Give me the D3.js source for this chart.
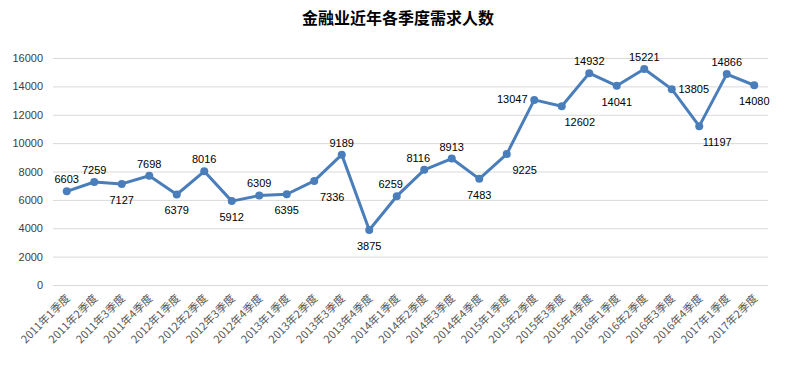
<!DOCTYPE html>
<html><head><meta charset="utf-8">
<script src="https://cdn.jsdelivr.net/npm/d3@7"></script>
<style>body{margin:0;background:#fff}svg{display:block}</style>
</head><body><svg id="c" width="796" height="371"></svg>
<script>
const title = "金融业近年各季度需求人数";
const categories = ["2011年1季度","2011年2季度","2011年3季度","2011年4季度","2012年1季度","2012年2季度","2012年3季度","2012年4季度","2013年1季度","2013年2季度","2013年3季度","2013年4季度","2014年1季度","2014年2季度","2014年3季度","2014年4季度","2015年1季度","2015年2季度","2015年3季度","2015年4季度","2016年1季度","2016年2季度","2016年3季度","2016年4季度","2017年1季度","2017年2季度"];
const values = [6603,7259,7127,7698,6379,8016,5912,6309,6395,7336,9189,3875,6259,8116,8913,7483,9225,13047,12602,14932,14041,15221,13805,11197,14866,14080];
const labelSide = ["a","a","b","a","b","a","b","a","b","br","a","b","al","al","a","b","br","l","br","a","b","a","r","br","a","b"];
const yTicks = [0,2000,4000,6000,8000,10000,12000,14000,16000];

(function(){
const svg = d3.select("#c");
const mLeft = 53, mRight = 768, mTop = 58, mBottom = 285;
const x = d3.scaleBand().domain(categories).range([mLeft, mRight]);
const y = d3.scaleLinear().domain([0,16000]).range([mBottom, mTop]);
const numFont = "'Liberation Sans', Arial, sans-serif";

svg.append("text").attr("x", 398).attr("y", 24).attr("text-anchor","middle")
  .attr("font-family","'Noto Sans CJK SC', sans-serif").attr("font-weight","bold")
  .attr("font-size",16).attr("fill","#000").text(title);

const yAxis = svg.append("g").attr("transform",`translate(${mLeft},0)`)
  .call(d3.axisLeft(y).tickValues(yTicks).tickSize(-(mRight-mLeft)).tickFormat(d3.format("d")).tickPadding(10));
yAxis.select(".domain").remove();
yAxis.selectAll(".tick line").attr("stroke","#d9d9d9").attr("stroke-width",1);
yAxis.selectAll(".tick text").attr("font-family",numFont).attr("font-size",11).attr("fill","#404040");

const xAxis = svg.append("g").attr("transform",`translate(0,${mBottom})`)
  .call(d3.axisBottom(x).tickSize(0).tickPadding(0));
xAxis.select(".domain").remove();
xAxis.selectAll(".tick text")
  .attr("font-family","'Noto Sans CJK SC', sans-serif").attr("font-size",11).attr("fill","#595959")
  .attr("text-anchor","end").attr("dy",null).attr("y",0)
  .attr("transform","translate(4,14) rotate(-45)");

const cx = d => x(d) + x.bandwidth()/2;
const pts = categories.map((c,i)=>({c, v: values[i], s: labelSide[i]}));

svg.append("path").datum(pts)
  .attr("fill","none").attr("stroke","#4a7ebb").attr("stroke-width",3).attr("stroke-linejoin","round")
  .attr("d", d3.line().x(d=>cx(d.c)).y(d=>y(d.v)));

svg.selectAll("circle.m").data(pts).join("circle")
  .attr("cx", d=>cx(d.c)).attr("cy", d=>y(d.v)).attr("r",4).attr("fill","#4a7ebb");

const off = {a:[0,-12], b:[0,16], l:[-22,-1], r:[22,0], br:[18,16], al:[-6,-12]};
svg.selectAll("text.lbl").data(pts).join("text")
  .attr("x", d=>cx(d.c)+off[d.s][0]).attr("y", d=>y(d.v)+off[d.s][1]+4)
  .attr("text-anchor","middle").attr("font-family",numFont).attr("font-size",11).attr("fill","#000")
  .text(d=>d.v);
})();
</script></body></html>
